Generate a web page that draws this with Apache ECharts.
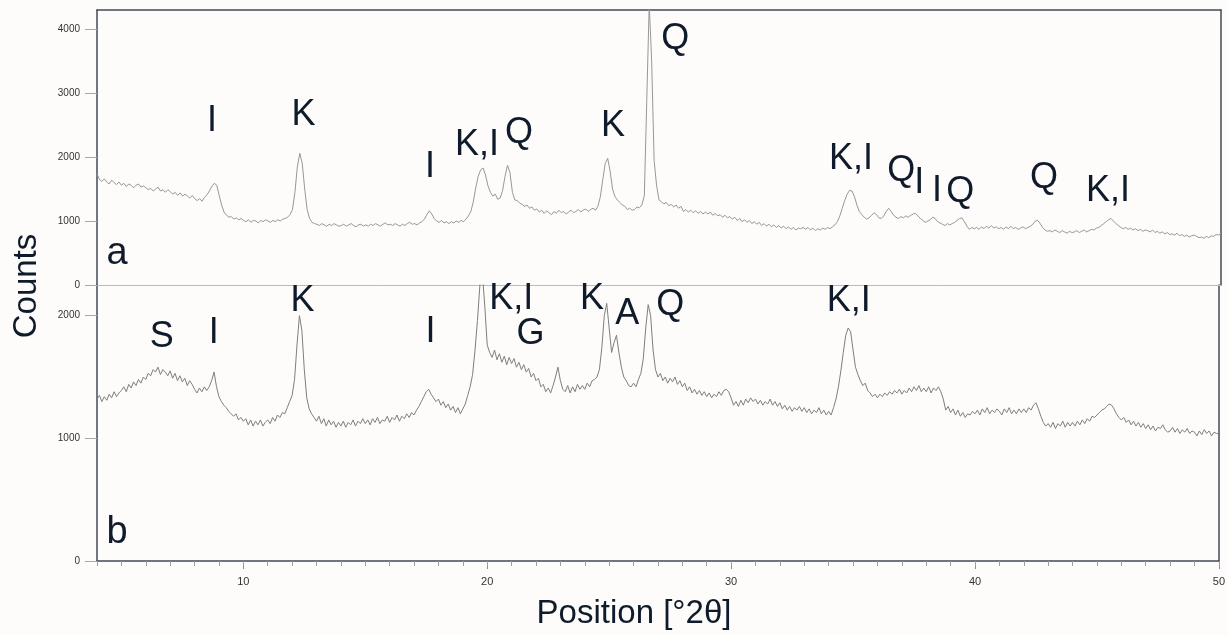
<!DOCTYPE html>
<html>
<head>
<meta charset="utf-8">
<title>XRD patterns a / b</title>
<script src="https://cdn.jsdelivr.net/npm/echarts@6/dist/echarts.min.js"></script>
<style>
  html, body { margin: 0; padding: 0; background: #fdfcfa; }
  #chart { width: 1228px; height: 635px; }
</style>
</head>
<body>
<div id="chart"></div>
<script>
// 1. data: counts sampled every 0.1 °2θ from 4.0 to 50.0
const twoThetaStart = 4.0;
const twoThetaStep = 0.1;

// pattern a (upper panel)
const countsA = [
  1740,1650,1620,1660,1610,1580,1640,1600,1570,1610, // 4
  1560,1590,1540,1580,1560,1520,1560,1580,1530,1550, // 5
  1520,1490,1510,1470,1500,1530,1470,1490,1450,1490, // 6
  1460,1420,1450,1400,1440,1390,1420,1390,1360,1400, // 7
  1350,1320,1350,1310,1370,1410,1470,1540,1590,1560, // 8
  1400,1250,1140,1090,1060,1070,1030,1050,1020,1040, // 9
  1010,990,1020,980,1010,1000,970,1010,990,1020,     // 10
  1000,980,1010,990,1020,1000,1030,1040,1060,1100,   // 11
  1180,1450,1850,2060,1900,1500,1180,1040,980,960,   // 12
  950,930,960,940,920,950,930,960,940,920,           // 13
  930,950,920,940,960,930,910,940,950,920,           // 14
  940,920,950,930,960,940,920,950,970,940,           // 15
  950,930,960,940,920,950,930,960,980,950,           // 16
  960,940,970,990,1030,1100,1160,1110,1040,1000,     // 17
  980,1010,970,990,960,990,970,1000,980,1010,        // 18
  990,1030,1080,1150,1300,1520,1700,1800,1830,1720,  // 19
  1550,1450,1390,1420,1340,1360,1480,1700,1870,1760, // 20
  1450,1330,1320,1280,1260,1230,1250,1200,1220,1170, // 21
  1190,1140,1170,1120,1160,1130,1100,1150,1120,1170, // 22
  1130,1150,1110,1140,1170,1130,1150,1180,1140,1170, // 23
  1190,1150,1180,1200,1170,1230,1380,1650,1900,1980, // 24
  1780,1500,1380,1330,1290,1250,1230,1180,1200,1170, // 25
  1180,1220,1210,1250,1400,2900,4400,3500,1950,1560, // 26
  1330,1300,1270,1290,1240,1260,1220,1250,1200,1230, // 27
  1150,1180,1140,1170,1130,1160,1120,1150,1110,1140, // 28
  1110,1140,1090,1120,1080,1100,1060,1090,1050,1070, // 29
  1030,1060,1010,1040,990,1020,980,1010,960,990,     // 30
  950,980,930,960,920,950,910,940,900,930,           // 31
  890,920,880,910,870,900,860,890,880,900,           // 32
  870,900,860,890,850,880,860,890,870,900,           // 33
  880,910,940,990,1080,1200,1320,1420,1480,1470,     // 34
  1380,1250,1150,1100,1060,1030,1050,1090,1130,1100, // 35
  1050,1040,1080,1150,1200,1150,1090,1060,1040,1070, // 36
  1050,1080,1060,1090,1110,1120,1080,1040,1010,980,  // 37
  1000,1020,1060,1040,990,970,950,930,960,940,       // 38
  960,980,1010,1040,1050,990,920,870,900,880,        // 39
  900,870,910,880,920,890,930,890,910,880,           // 40
  900,870,910,880,920,880,900,870,890,910,           // 41
  880,900,920,950,1000,1010,960,900,860,840,         // 42
  850,830,860,840,820,850,830,810,840,820,           // 43
  830,850,820,840,860,830,850,870,860,890,           // 44
  900,930,960,990,1020,1040,1000,960,930,900,        // 45
  880,900,870,890,860,880,850,870,840,860,           // 46
  850,830,860,820,840,810,830,800,820,790,           // 47
  800,780,810,770,790,760,780,750,770,780,           // 48
  760,740,750,730,760,740,770,760,790,780,           // 49
  810                                                // 50
];

// pattern b (lower panel)
const countsB = [
  1320,1350,1300,1340,1310,1360,1330,1380,1340,1370, // 4
  1390,1420,1380,1440,1410,1460,1430,1480,1450,1500, // 5
  1480,1530,1510,1560,1540,1580,1520,1560,1540,1510, // 6
  1550,1490,1530,1470,1510,1460,1490,1430,1470,1440, // 7
  1400,1370,1410,1380,1420,1390,1420,1470,1540,1420, // 8
  1340,1300,1270,1250,1220,1200,1180,1200,1150,1170, // 9
  1140,1160,1110,1150,1100,1140,1110,1150,1100,1130, // 10
  1150,1120,1170,1140,1190,1170,1210,1200,1250,1300, // 11
  1350,1480,1760,2000,1880,1560,1330,1240,1200,1170, // 12
  1140,1180,1120,1160,1100,1150,1110,1140,1090,1130, // 13
  1100,1140,1090,1130,1110,1150,1100,1140,1120,1160, // 14
  1120,1150,1110,1160,1130,1170,1120,1150,1140,1180, // 15
  1130,1170,1150,1190,1140,1180,1160,1200,1170,1210, // 16
  1190,1230,1260,1300,1340,1380,1400,1360,1330,1300, // 17
  1320,1270,1300,1250,1280,1230,1260,1210,1250,1200, // 18
  1240,1280,1350,1420,1520,1720,1960,2250,2350,2080, // 19
  1760,1700,1660,1720,1640,1690,1620,1670,1600,1660, // 20
  1610,1650,1580,1620,1560,1600,1540,1570,1500,1530, // 21
  1470,1490,1420,1440,1380,1410,1370,1430,1500,1580, // 22
  1470,1400,1380,1430,1370,1420,1380,1440,1400,1430, // 23
  1400,1450,1420,1470,1480,1500,1560,1740,2000,2100, // 24
  1900,1700,1780,1840,1700,1580,1500,1470,1430,1420, // 25
  1450,1420,1480,1530,1650,1900,2090,2000,1720,1560, // 26
  1500,1530,1470,1500,1450,1490,1460,1500,1440,1470, // 27
  1420,1450,1390,1420,1370,1400,1360,1390,1350,1380, // 28
  1340,1370,1330,1360,1340,1380,1350,1390,1400,1380, // 29
  1330,1270,1300,1260,1310,1270,1320,1290,1330,1300, // 30
  1320,1280,1310,1270,1300,1280,1320,1270,1300,1260, // 31
  1290,1240,1270,1230,1260,1220,1250,1230,1260,1220, // 32
  1250,1210,1240,1200,1230,1210,1250,1200,1230,1190, // 33
  1220,1190,1250,1320,1420,1550,1700,1840,1900,1870, // 34
  1720,1580,1520,1470,1430,1450,1390,1370,1340,1360, // 35
  1330,1360,1340,1370,1350,1380,1360,1390,1370,1400, // 36
  1360,1390,1370,1410,1380,1420,1390,1430,1380,1410, // 37
  1380,1420,1370,1410,1390,1420,1380,1320,1230,1260, // 38
  1210,1240,1190,1230,1180,1210,1170,1200,1190,1220, // 39
  1200,1230,1190,1240,1210,1250,1200,1230,1210,1240, // 40
  1220,1190,1240,1210,1250,1200,1230,1200,1240,1210, // 41
  1240,1210,1250,1230,1270,1290,1240,1180,1130,1100, // 42
  1120,1090,1130,1080,1120,1100,1140,1090,1130,1100, // 43
  1130,1100,1140,1110,1150,1120,1160,1140,1180,1170, // 44
  1190,1210,1230,1240,1260,1280,1270,1240,1200,1170, // 45
  1150,1170,1130,1150,1110,1140,1100,1130,1090,1120, // 46
  1080,1110,1070,1100,1060,1090,1080,1110,1070,1050, // 47
  1060,1090,1050,1080,1040,1070,1050,1080,1040,1060, // 48
  1050,1020,1060,1030,1070,1040,1060,1020,1050,1040, // 49
  1040                                               // 50
];

// phase labels: [text, °2θ, counts]
const phaseLabelsA = [
  ['I', 8.71, 2564], ['K', 12.45, 2650], ['I', 17.63, 1845], ['K,I', 19.55, 2189],
  ['Q', 21.27, 2377], ['K', 25.12, 2486], ['Q', 27.66, 3846], ['K,I', 34.86, 1970],
  ['Q', 36.91, 1783], ['I', 37.65, 1595], ['I', 38.38, 1470], ['Q', 39.33, 1454],
  ['Q', 42.76, 1673], ['K,I', 45.38, 1470]
];
const phaseLabelsB = [
  ['S', 6.66, 1826], ['I', 8.79, 1858], ['K', 12.43, 2119], ['I', 17.67, 1866],
  ['K,I', 20.99, 2135], ['G', 21.77, 1850], ['K', 24.30, 2135], ['A', 25.74, 2013],
  ['Q', 27.50, 2086], ['K,I', 34.82, 2119]
];
const panelLabelA = [['a', 4.82, 485]];
const panelLabelB = [['b', 4.82, 236]];

// axis ticks
const xTickValues = [10, 20, 30, 40, 50];
const yTicksA = [0, 1000, 2000, 3000, 4000];
const yTicksB = [0, 1000, 2000];

// 2. styles
const FONT = '"Liberation Sans", Arial, Helvetica, sans-serif';
const INK = '#0f1a2b';
const FRAME = '#434a56';

const toPoints = (values) =>
  values.map((v, i) => [+(twoThetaStart + i * twoThetaStep).toFixed(2), v]);

const textSeries = (items, axisIndex, size) => ({
  type: 'scatter',
  xAxisIndex: axisIndex === 0 ? 0 : 2,
  yAxisIndex: axisIndex === 0 ? 0 : 2,
  symbolSize: 0,
  silent: true,
  clip: false,
  z: 5,
  itemStyle: { opacity: 1 },
  data: items.map((d) => [d[1], d[2], d[0]]),
  label: {
    show: true,
    position: 'inside',
    formatter: (p) => p.value[2],
    fontSize: size,
    fontFamily: FONT,
    color: INK,
    opacity: 1
  }
});

const frameAxis = (grid, position) => ({
  gridIndex: grid,
  type: 'value',
  position: position,
  axisLine: { show: true, onZero: false, lineStyle: { color: FRAME, width: 1.5 } },
  axisTick: { show: false },
  axisLabel: { show: false },
  splitLine: { show: false }
});

const countsAxis = (grid, max, ticks) => ({
  gridIndex: grid,
  type: 'value',
  min: 0,
  max: max,
  position: 'left',
  axisLine: { show: true, onZero: false, lineStyle: { color: FRAME, width: 1.5 } },
  axisTick: { show: true, length: 12, customValues: ticks, lineStyle: { color: '#a5a8ad' } },
  axisLabel: { customValues: ticks, formatter: (v) => String(v), margin: 17, fontSize: 10, fontFamily: FONT, color: '#333' },
  splitLine: { show: false }
});

// 3. chart
const chart = echarts.init(document.getElementById('chart'), null, { renderer: 'canvas' });

chart.setOption({
  backgroundColor: '#fdfcfa',
  animation: false,
  grid: [
    { left: 97, right: 7, top: 10, height: 275 },
    { left: 97, right: 7, top: 285, height: 276 }
  ],
  xAxis: [
    // divider between panels
    { gridIndex: 0, type: 'value', min: 4, max: 50, position: 'bottom',
      axisLine: { onZero: false, lineStyle: { color: '#b8bcc1', width: 1 } },
      axisTick: { show: false }, axisLabel: { show: false }, splitLine: { show: false } },
    Object.assign(frameAxis(0, 'top'), { min: 4, max: 50 }),
    // main x axis with labels
    { gridIndex: 1, type: 'value', min: 4, max: 50, position: 'bottom',
      axisLine: { onZero: false, lineStyle: { color: FRAME, width: 1.5 } },
      axisTick: { show: true, length: 8, customValues: xTickValues, lineStyle: { color: '#8c9096' } },
      axisLabel: { customValues: xTickValues, formatter: (v) => String(v), margin: 15, fontSize: 11, fontFamily: FONT, color: '#333' },
      splitLine: { show: false } },
    // minor ticks every 1 °2θ
    { gridIndex: 1, type: 'value', min: 4, max: 50, interval: 1, position: 'bottom',
      axisLine: { show: false, onZero: false },
      axisTick: { show: true, length: 5, lineStyle: { color: '#9a9ea4' } },
      axisLabel: { show: false }, splitLine: { show: false } }
  ],
  yAxis: [
    countsAxis(0, 4300, yTicksA),
    Object.assign(frameAxis(0, 'right'), { min: 0, max: 4300 }),
    countsAxis(1, 2250, yTicksB),
    Object.assign(frameAxis(1, 'right'), { min: 0, max: 2250 })
  ],
  series: [
    { type: 'line', xAxisIndex: 0, yAxisIndex: 0, data: toPoints(countsA),
      showSymbol: false, symbol: 'none', silent: true,
      lineStyle: { color: '#979797', width: 1 } },
    { type: 'line', xAxisIndex: 2, yAxisIndex: 2, data: toPoints(countsB),
      showSymbol: false, symbol: 'none', silent: true,
      lineStyle: { color: '#7e7e7e', width: 1 } },
    textSeries(phaseLabelsA, 0, 36),
    textSeries(phaseLabelsB, 1, 36),
    textSeries(panelLabelA, 0, 38),
    textSeries(panelLabelB, 1, 38)
  ],
  graphic: [
    { type: 'text', x: 27, y: 286, rotation: Math.PI / 2, silent: true,
      style: { text: 'Counts', fontSize: 33, fontFamily: FONT, fill: INK, align: 'center', verticalAlign: 'middle' } },
    { type: 'text', x: 634, y: 614, silent: true,
      style: { text: 'Position [°2θ]', fontSize: 33, fontFamily: FONT, fill: INK, align: 'center', verticalAlign: 'middle' } }
  ]
});

window.addEventListener('resize', () => chart.resize());
</script>
</body>
</html>
